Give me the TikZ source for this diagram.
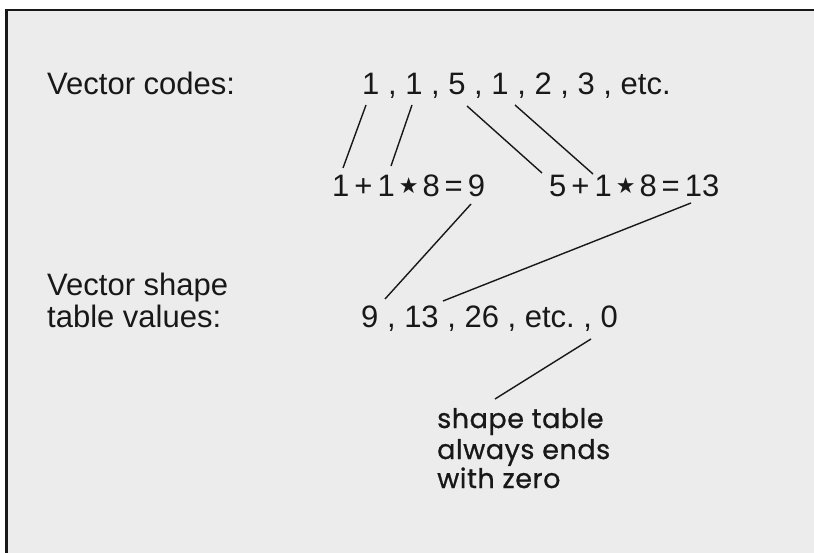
\documentclass[tikz,border=0pt]{standalone}
\usepackage{fontspec}
\setmainfont{Liberation Sans}
\newfontfamily\notefont[FakeBold=0.8,LetterSpace=2]{Poppins}
\newfontfamily\symfont{DejaVu Sans}
\definecolor{paper}{RGB}{236,236,236}
\definecolor{ink}{RGB}{24,24,24}
\newcommand{\mystar}{\hspace{4pt}{\symfont\fontsize{22}{22}\selectfont\raisebox{3pt}{★}}\hspace{4pt}}
\newcommand{\op}[1]{\hspace{5pt}#1\hspace{5pt}}
\frenchspacing
\begin{document}
\begin{tikzpicture}[x=1pt,y=-1pt,
  lbl/.style={anchor=base west,inner sep=0pt,text=ink,font=\fontsize{31}{32}\selectfont},
  note/.style={anchor=base west,inner sep=0pt,text=ink,font=\notefont\fontsize{27}{30}\selectfont},
  link/.style={draw=ink,line width=1.4pt}]
\useasboundingbox (0,0) rectangle (814,553);
\fill[white] (0,0) rectangle (814,553);
\fill[paper] (6,10) rectangle (814,553);
\draw[ink,line width=2.6pt] (6.5,553) -- (6.5,10) -- (814,10);

\node[lbl] (vc) at (47,95) {Vector codes:};
\node[lbl] (codes) at (362,95) {1 , 1 , 5 , 1 , 2 , 3 , etc.};
\node[lbl] (eqa) at (332,197) {1\op{+}1\mystar8\op{=}9};
\node[lbl] (eqb) at (549,197) {5\op{+}1\mystar8\op{=}13};
\node[lbl] (vs1) at (47,296) {Vector shape};
\node[lbl] (vs2) at (47,328) {table values:};
\node[lbl] (vals) at (361,328) {9 , 13 , 26 , etc. , 0};
\node[note] (n1) at (437,428) {shape table};
\node[note] (n2) at (437,459) {always ends};
\node[note] (n3) at (437,488) {with zero};

\coordinate (a1) at (366,105); \coordinate (b1) at (343,168);
\coordinate (a2) at (412,105); \coordinate (b2) at (391,166);
\coordinate (a3) at (467,106); \coordinate (b3) at (542,173);
\coordinate (a4) at (515,105); \coordinate (b4) at (593,174);
\coordinate (a5) at (471,204); \coordinate (b5) at (385,299);
\coordinate (a6) at (691,203); \coordinate (b6) at (443,301);
\coordinate (a7) at (591,339); \coordinate (b7) at (495,399);
\foreach \i in {1,...,7} {\draw[link] (a\i) -- (b\i);}
\end{tikzpicture}
\end{document}
